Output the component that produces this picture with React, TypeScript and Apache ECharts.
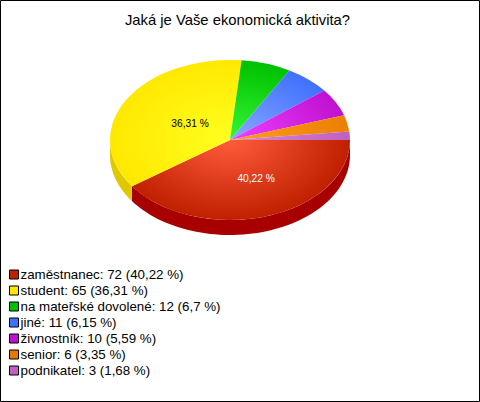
import React, { useEffect, useRef } from "react";
import * as echarts from "echarts";

const titleText = "Jaká je Vaše ekonomická aktivita?";
const categories = ["zaměstnanec", "student", "na mateřské dovolené", "jiné", "živnostník", "senior", "podnikatel"];
const counts = [72, 65, 12, 11, 10, 6, 3];
const percentLabels = ["40,22", "36,31", "6,7", "6,15", "5,59", "3,35", "1,68"];
const legendColors = ["#c02000", "#ffe800", "#00c000", "#4070ff", "#c010d0", "#e87800", "#c060c0"];
const innerColors = ["#ff5c3c", "#ffff20", "#34f834", "#88a8ff", "#f040ff", "#ff9c20", "#d888d8"];
const outerColors = ["#c02000", "#ffe800", "#00c000", "#4070ff", "#c010d0", "#ec8000", "#c060c0"];
const wallColors = ["#a80000", "#e0c800", "#008800", "#2850c0", "#900090", "#b05800", "#905090"];
const percentColors = ["#ffffff", "#000000", "#000", "#000", "#000", "#000", "#000"];
// Where the percent label of a slice sits, as a share of the radii; null means no label.
const labelRadius: ([number, number] | null)[] = [[0.72, 0.51], [0.385, 0.4], null, null, null, null, null];

const CX = 230, CY = 140, RX = 120, RY = 80, DEPTH = 15;
const FONT = "'Liberation Sans', Arial, sans-serif";
const total = counts.reduce((a, b) => a + b, 0);

function wallPoints(a0: number, a1: number): number[][] | null {
  const s = Math.max(a0, 0), e = Math.min(a1, Math.PI);
  if (e <= s) return null;
  const top: number[][] = [], bottom: number[][] = [];
  const n = 64;
  for (let k = 0; k <= n; k++) {
    const a = s + ((e - s) * k) / n;
    top.push([CX + RX * Math.cos(a), CY + RY * Math.sin(a)]);
    bottom.unshift([CX + RX * Math.cos(a), CY + RY * Math.sin(a) + DEPTH]);
  }
  return top.concat(bottom);
}

function App() {
  const ref = useRef<HTMLDivElement>(null);
  useEffect(() => {
    document.body.style.margin = "0";
    const chart = echarts.init(ref.current!, null, { renderer: "svg" });
    const names = categories.map((c, i) => `${c}: ${counts[i]} (${percentLabels[i]} %)`);
    let acc = 0;
    const series = categories.map((_, i) => {
      const a0 = (acc / total) * Math.PI * 2;
      acc += counts[i];
      const a1 = (acc / total) * Math.PI * 2;
      const mid = (a0 + a1) / 2;
      return {
        type: "custom",
        name: names[i],
        coordinateSystem: "none",
        data: [[counts[i]]],
        itemStyle: { color: legendColors[i] },
        silent: true,
        renderItem: () => {
          const children: any[] = [];
          const w = wallPoints(a0, a1);
          if (w) {
            children.push({ type: "polygon", shape: { points: w }, style: { fill: wallColors[i] } });
          }
          children.push({
            type: "sector",
            x: CX,
            y: CY,
            scaleY: RY / RX,
            shape: { cx: 0, cy: 0, r: RX, r0: 0, startAngle: a0, endAngle: a1, clockwise: true },
            style: {
              fill: new echarts.graphic.RadialGradient(0, 0, RX, [
                { offset: 0, color: innerColors[i] },
                { offset: 1, color: outerColors[i] },
              ], true),
            },
          });
          const lr = labelRadius[i];
          if (lr) {
            children.push({
              type: "text",
              x: CX + RX * lr[0] * Math.cos(mid),
              y: CY + RY * lr[1] * Math.sin(mid),
              style: {
                text: `${percentLabels[i]} %`,
                fill: percentColors[i],
                font: `10.2px ${FONT}`,
                align: "center",
                verticalAlign: "middle",
              },
            });
          }
          return { type: "group", children };
        },
      };
    });
    chart.setOption({
      animation: false,
      backgroundColor: "#ffffff",
      title: {
        text: titleText,
        left: 237.5,
        top: 12,
        padding: 0,
        textAlign: "center",
        textStyle: { fontFamily: FONT, fontSize: 14.8, fontWeight: "normal", color: "#000" },
      },
      legend: {
        orient: "vertical",
        left: 9,
        top: 268,
        padding: 0,
        itemWidth: 9,
        itemHeight: 9,
        itemGap: 3,
        icon: "rect",
        data: names.map((n, i) => ({ name: n, itemStyle: { color: legendColors[i], borderColor: "#000", borderWidth: 1 } })),
        selectedMode: false,
        textStyle: { fontFamily: FONT, fontSize: 13.33, color: "#000", padding: [0, 0, 0, -3], height: 12, lineHeight: 12 },
      },
      graphic: [
        { type: "rect", z: 100, shape: { x: 0.5, y: 0.5, width: 479, height: 401 }, style: { fill: "none", stroke: "#000", lineWidth: 1 }, silent: true },
      ],
      series,
    });
    return () => chart.dispose();
  }, []);
  return <div ref={ref} style={{ width: 480, height: 402 }} />;
}

export default App;
